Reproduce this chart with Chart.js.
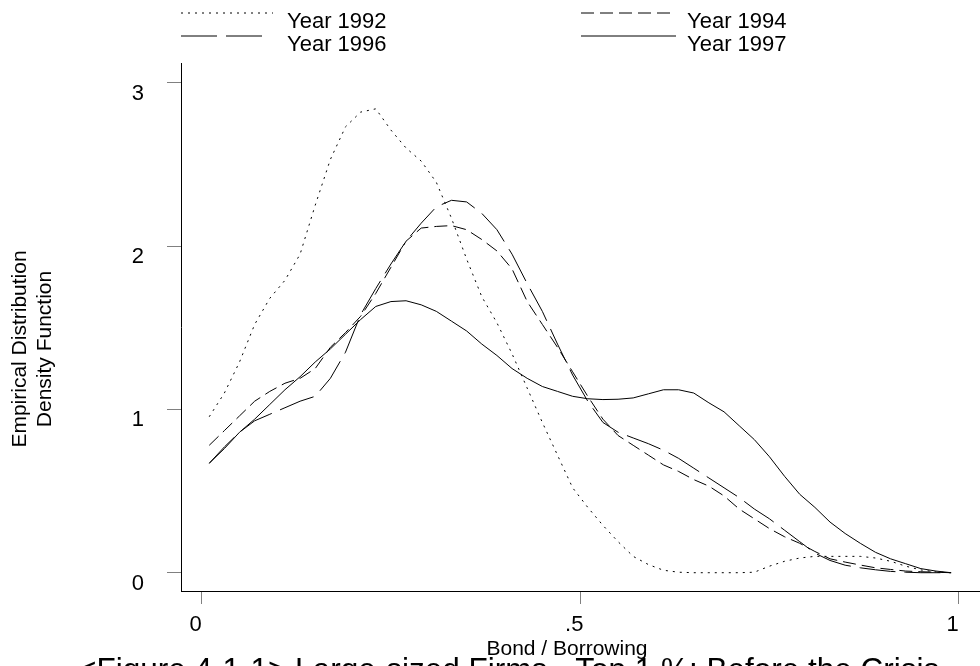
<!DOCTYPE html>
<html>
<head>
<meta charset="utf-8">
<script src="https://cdn.jsdelivr.net/npm/chart.js@4.4.1/dist/chart.umd.min.js"></script>
<style>
  html, body { margin: 0; padding: 0; background: #fff; }
  #wrap { width: 980px; height: 666px; }
</style>
</head>
<body>
<div id="wrap"><canvas id="densityChart" width="980" height="666"></canvas></div>
<script>
// kernel density estimates, bond share of total borrowing
const bondRatio = [0.01, 0.03, 0.05, 0.07, 0.09, 0.11, 0.13, 0.15, 0.17, 0.19,
  0.21, 0.23, 0.25, 0.27, 0.29, 0.31, 0.33, 0.35, 0.37, 0.39,
  0.41, 0.43, 0.45, 0.47, 0.49, 0.51, 0.53, 0.55, 0.57, 0.59,
  0.61, 0.63, 0.65, 0.67, 0.69, 0.71, 0.73, 0.75, 0.77, 0.79,
  0.81, 0.83, 0.85, 0.87, 0.89, 0.91, 0.93, 0.95, 0.97, 0.99];

const density1992 = [0.955, 1.10, 1.29, 1.52, 1.68, 1.79, 1.95, 2.25, 2.53, 2.73,
  2.82, 2.84, 2.71, 2.60, 2.52, 2.39, 2.17, 1.92, 1.69, 1.53,
  1.34, 1.13, 0.92, 0.72, 0.52, 0.40, 0.29, 0.19, 0.10, 0.05,
  0.015, 0.003, 0.0, 0.0, 0.0, 0.0, 0.003, 0.04, 0.07, 0.09,
  0.10, 0.10, 0.10, 0.10, 0.09, 0.07, 0.04, 0.017, 0.005, 0.0];

const density1994 = [0.78, 0.87, 0.96, 1.05, 1.11, 1.16, 1.19, 1.25, 1.38, 1.47,
  1.57, 1.71, 1.87, 2.03, 2.11, 2.12, 2.125, 2.10, 2.04, 1.97,
  1.86, 1.66, 1.52, 1.38, 1.23, 1.08, 0.94, 0.84, 0.78, 0.72,
  0.66, 0.62, 0.57, 0.53, 0.47, 0.39, 0.33, 0.27, 0.22, 0.18,
  0.13, 0.085, 0.065, 0.047, 0.03, 0.02, 0.01, 0.006, 0.003, 0.0];

const density1996 = [0.67, 0.77, 0.86, 0.93, 0.97, 1.01, 1.05, 1.08, 1.19, 1.35,
  1.58, 1.74, 1.89, 2.03, 2.14, 2.24, 2.28, 2.27, 2.20, 2.10,
  1.95, 1.77, 1.60, 1.40, 1.21, 1.05, 0.92, 0.86, 0.825, 0.79,
  0.75, 0.70, 0.64, 0.58, 0.52, 0.46, 0.39, 0.33, 0.26, 0.19,
  0.12, 0.075, 0.046, 0.03, 0.018, 0.008, 0.003, 0.0, 0.0, 0.0];

const density1997 = [0.67, 0.76, 0.86, 0.94, 1.03, 1.12, 1.20, 1.29, 1.37, 1.46,
  1.55, 1.63, 1.66, 1.665, 1.64, 1.60, 1.54, 1.48, 1.40, 1.33,
  1.25, 1.19, 1.14, 1.11, 1.08, 1.065, 1.06, 1.062, 1.07, 1.095,
  1.12, 1.12, 1.10, 1.04, 0.985, 0.90, 0.815, 0.71, 0.59, 0.48,
  0.40, 0.31, 0.24, 0.18, 0.125, 0.085, 0.055, 0.025, 0.01, 0.0];

const xTicks = [0, 0.5, 1];
const xTickLabels = ['0', '.5', '1'];
const yTicks = [0, 1, 2, 3];

const FONT = "'Liberation Sans', Arial, sans-serif";

// line patterns: dot, dash, long dash, solid
const series = [
  { label: 'Year 1992', values: density1992, dash: [2, 5] },
  { label: 'Year 1994', values: density1994, dash: [13, 6] },
  { label: 'Year 1996', values: density1996, dash: [36, 9] },
  { label: 'Year 1997', values: density1997, dash: [] }
];

function toPoints(values) {
  return values.map((v, i) => ({ x: bondRatio[i], y: v }));
}

// legend, axis titles and caption drawn straight on the canvas
const textPlugin = {
  id: 'textPlugin',
  afterDraw(chart) {
    const ctx = chart.ctx;
    ctx.save();

    // legend: two columns, two rows
    const legendPos = [
      { x0: 181, x1: 273, tx: 287, ly: 13, ty: 28 },
      { x0: 581, x1: 676, tx: 687, ly: 13, ty: 28 },
      { x0: 181, x1: 268, tx: 287, ly: 36, ty: 51 },
      { x0: 581, x1: 676, tx: 687, ly: 36, ty: 51 }
    ];
    series.forEach((s, i) => {
      const p = legendPos[i];
      ctx.strokeStyle = '#000';
      ctx.lineWidth = 1;
      ctx.setLineDash(s.dash);
      ctx.beginPath();
      ctx.moveTo(p.x0, p.ly);
      ctx.lineTo(p.x1, p.ly);
      ctx.stroke();
      ctx.setLineDash([]);
      ctx.fillStyle = '#000';
      ctx.font = '22px ' + FONT;
      ctx.textAlign = 'left';
      ctx.textBaseline = 'alphabetic';
      ctx.fillText(s.label, p.tx, p.ty);
    });

    // y axis title, two lines rotated
    ctx.save();
    ctx.translate(0, 349);
    ctx.rotate(-Math.PI / 2);
    ctx.font = '21px ' + FONT;
    ctx.textAlign = 'center';
    ctx.textBaseline = 'middle';
    ctx.fillText('Empirical Distribution', 0, 20);
    ctx.fillText('Density Function', 0, 45);
    ctx.restore();

    // x axis title
    ctx.font = '21px ' + FONT;
    ctx.textAlign = 'center';
    ctx.textBaseline = 'alphabetic';
    ctx.fillText('Bond / Borrowing', 567, 655);

    // figure caption
    ctx.font = '31.5px ' + FONT;
    ctx.textAlign = 'left';
    ctx.fillText('<Figure 4-1-1> Large-sized Firms - Top 1 %: Before the Crisis', 78, 680);

    ctx.restore();
  }
};

const ctx = document.getElementById('densityChart');
new Chart(ctx, {
  type: 'line',
  data: {
    datasets: series.map(s => ({
      label: s.label,
      data: toPoints(s.values),
      borderColor: '#000',
      borderWidth: 1,
      borderDash: s.dash,
      pointRadius: 0,
      tension: 0,
      fill: false
    }))
  },
  options: {
    responsive: false,
    animation: false,
    layout: { padding: { left: 0, right: 0, top: 63, bottom: 0 } },
    plugins: {
      legend: { display: false },
      title: { display: false },
      tooltip: { enabled: false }
    },
    scales: {
      x: {
        type: 'linear',
        min: -0.0273,
        max: 1.0281,
        afterBuildTicks: scale => { scale.ticks = xTicks.map(v => ({ value: v })); },
        afterFit: scale => { scale.height = 75; },
        ticks: {
          color: '#000',
          font: { family: FONT, size: 22 },
          padding: 8,
          labelOffset: -6,
          maxRotation: 0,
          callback: v => xTickLabels[xTicks.indexOf(v)]
        },
        grid: { drawOnChartArea: false, drawTicks: true, tickLength: 13, tickColor: '#808080' },
        border: { display: true, color: '#000', width: 1 }
      },
      y: {
        type: 'linear',
        min: -0.112,
        max: 3.1206,
        afterBuildTicks: scale => { scale.ticks = yTicks.map(v => ({ value: v })); },
        afterFit: scale => { scale.width = 181; },
        ticks: {
          color: '#000',
          font: { family: FONT, size: 22 },
          padding: 23,
          labelOffset: 11,
          callback: v => String(v)
        },
        grid: { drawOnChartArea: false, drawTicks: true, tickLength: 14, tickColor: '#808080' },
        border: { display: true, color: '#000', width: 1 }
      }
    }
  },
  plugins: [textPlugin]
});
</script>
</body>
</html>
